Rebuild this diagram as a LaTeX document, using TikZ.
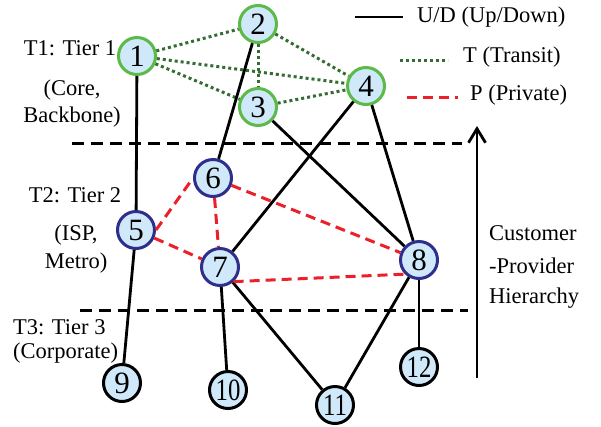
\documentclass[tikz,border=0pt]{standalone}
\usepackage{fontspec}
\setmainfont{Liberation Serif}
\usetikzlibrary{arrows.meta}
\definecolor{nodefill}{RGB}{207,232,250}
\definecolor{tgreen}{RGB}{92,186,72}
\definecolor{tblue}{RGB}{46,46,140}
\definecolor{dgreen}{RGB}{52,108,52}
\definecolor{pred}{RGB}{236,32,40}
\tikzset{
  tone/.style={circle,fill=nodefill,draw=tgreen,line width=3pt,minimum size=37pt,inner sep=0pt,font=\fontsize{31}{33}\selectfont},
  ttwo/.style={tone,draw=tblue},
  tthree/.style={tone,draw=black},
  lbl/.style={inner sep=0pt,font=\fontsize{22.5}{32}\selectfont},
  ud/.style={black,line width=2.8pt},
  tr/.style={dgreen,line width=3pt,dash pattern=on 3pt off 3pt},
  pr/.style={pred,line width=3pt,dash pattern=on 10pt off 6pt},
  sep/.style={black,line width=3pt,dash pattern=on 12pt off 7pt},
}
\newcommand{\twod}[1]{\scalebox{0.8}[1]{#1}}
\begin{document}
\begin{tikzpicture}[x=1pt,y=-1pt]
\useasboundingbox (0,0) rectangle (601,426);
% separators
\coordinate (s1a) at (72,143); \coordinate (s1b) at (462,143);
\coordinate (s2a) at (80,310); \coordinate (s2b) at (468,310);
\draw[sep] (s1a) -- (s1b);
\draw[sep] (s2a) -- (s2b);
% hierarchy arrow
\coordinate (ha) at (477,378); \coordinate (hb) at (477,126);
\draw[line width=2.8pt,-{Straight Barb[length=14pt,width=17pt,line width=2.8pt]}] (ha) -- (hb);
\node[lbl,anchor=west] (hier1) at (489,233) {Customer};
\node[lbl,anchor=west] (hier2) at (489,266) {-Provider};
\node[lbl,anchor=west] (hier3) at (489,298) {Hierarchy};
% nodes
\node[tone] (n1) at (137,56) {1};
\node[tone] (n2) at (258,24) {2};
\node[tone] (n3) at (258,107) {3};
\node[tone] (n4) at (366,86) {4};
\node[ttwo] (n5) at (136,230) {5};
\node[ttwo] (n6) at (213,178) {6};
\node[ttwo] (n7) at (220,267) {7};
\node[ttwo] (n8) at (419,260) {8};
\node[tthree] (n9) at (122,383) {9};
\node[tthree] (n10) at (228,390) {\twod{10}};
\node[tthree] (n11) at (335,405) {\twod{11}};
\node[tthree] (n12) at (419,367) {\twod{12}};
% transit
\draw[tr] (n1) -- (n2);
\draw[tr] (n1) -- (n3);
\draw[tr] (n1) -- (n4);
\draw[tr] (n2) -- (n3);
\draw[tr] (n2) -- (n4);
\draw[tr] (n3) -- (n4);
% up/down
\draw[ud] (n1) -- (n5);
\draw[ud] (n2) -- (n6);
\draw[ud] (n3) -- (n8);
\draw[ud] (n4) -- (n7);
\draw[ud] (n4) -- (n8);
\draw[ud] (n5) -- (n9);
\draw[ud] (n7) -- (n10);
\draw[ud] (n7) -- (n11);
\draw[ud] (n8) -- (n11);
\draw[ud] (n8) -- (n12);
% private
\draw[pr] (n5.east) -- (n6.west);
\draw[pr] (n5) -- (n7);
\draw[pr] (n6) -- (n7);
\draw[pr] (n6) -- (n8);
\draw[pr] (n7.-47) -- (n8.-135);
% tier labels
\node[lbl] (t1) at (70,48) {T1: Tier 1};
\node[lbl] (t1a) at (72,90) {(Core,};
\node[lbl] (t1b) at (72,117) {Backbone)};
\node[lbl] (t2) at (75,195) {T2: Tier 2};
\node[lbl] (t2a) at (76,235) {(ISP,};
\node[lbl] (t2b) at (76,263) {Metro)};
\node[lbl,anchor=west] (t3) at (13,327) {T3: Tier 3};
\node[lbl,anchor=west] (t3a) at (13,353) {(Corporate)};
% legend
\coordinate (l1a) at (355,17); \coordinate (l1b) at (403,17);
\coordinate (l2a) at (400,60); \coordinate (l2b) at (448,60);
\coordinate (l3a) at (407,97); \coordinate (l3b) at (458,97);
\draw[ud] (l1a) -- (l1b);
\draw[tr] (l2a) -- (l2b);
\draw[pr] (l3a) -- (l3b);
\node[lbl,anchor=west] (g1) at (417,17) {U/D (Up/Down)};
\node[lbl,anchor=west] (g2) at (463,57) {T (Transit)};
\node[lbl,anchor=west] (g3) at (470,95) {P (Private)};
\end{tikzpicture}
\end{document}
